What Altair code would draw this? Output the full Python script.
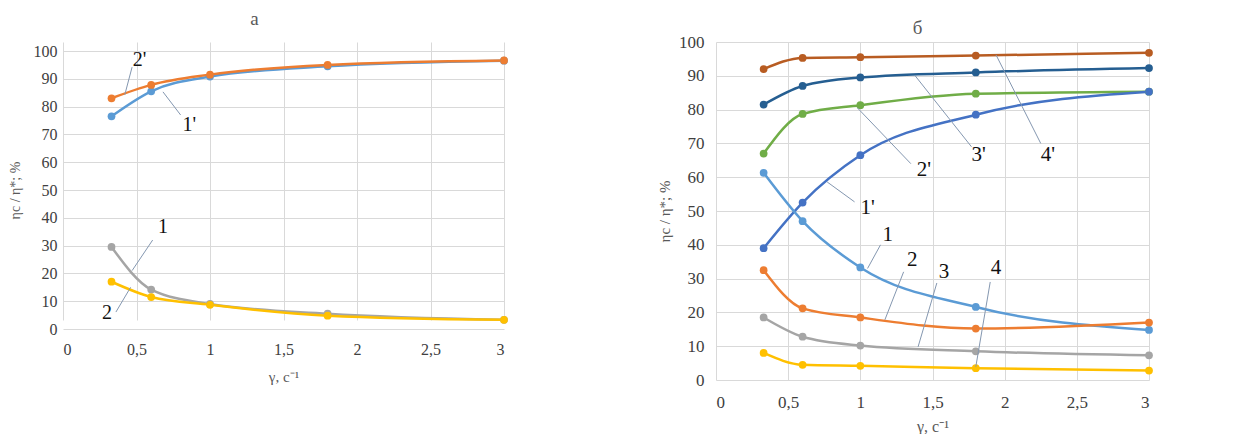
import altair as alt
import pandas as pd

# shared shear-rate values
x_vals = [0.33, 0.6, 1.0, 1.8, 3.0]

# ---------- panel "а" ----------
a_names = ["1'", "2'", "1", "2"]
a_colors = ["#5b9bd5", "#ed7d31", "#a5a5a5", "#ffc000"]
a_1p = [76.5, 85.5, 90.8, 94.5, 96.5]
a_2p = [83.0, 87.8, 91.5, 95.0, 96.6]
a_1 = [29.5, 14.2, 9.0, 5.5, 3.3]
a_2 = [17.0, 11.5, 8.7, 4.8, 3.3]
a_series = [a_1p, a_2p, a_1, a_2]

a_lab_text = ["2'", "1'", "1", "2"]
a_lab_x = [0.52, 0.86, 0.68, 0.30]
a_lab_y = [96.8, 73.4, 36.7, 5.8]
a_ld_x = [0.42, 0.68, 0.61, 0.36]
a_ld_y = [84.2, 85.3, 32.0, 6.1]
a_ld_x2 = [0.47, 0.80, 0.47, 0.46]
a_ld_y2 = [94.2, 77.0, 21.0, 15.0]

# ---------- panel "б" ----------
b_names = ["4'", "3'", "2'", "1'", "1", "2", "3", "4"]
b_colors = ["#b85c22", "#255e91", "#70ad47", "#4472c4",
            "#5b9bd5", "#ed7d31", "#a5a5a5", "#ffc000"]
b_4p = [92.0, 95.3, 95.5, 96.0, 96.8]
b_3p = [81.5, 87.0, 89.5, 91.0, 92.3]
b_2p = [67.0, 78.7, 81.3, 84.7, 85.3]
b_1p = [39.0, 52.5, 66.5, 78.5, 85.3]
b_1 = [61.3, 47.0, 33.3, 21.6, 14.8]
b_2 = [32.5, 21.2, 18.5, 15.2, 17.0]
b_3 = [18.5, 12.8, 10.2, 8.5, 7.3]
b_4 = [8.0, 4.5, 4.2, 3.5, 2.8]
b_series = [b_4p, b_3p, b_2p, b_1p, b_1, b_2, b_3, b_4]

b_lab_text = ["4'", "3'", "2'", "1'", "1", "2", "3", "4"]
b_lab_x = [2.30, 1.82, 1.44, 1.05, 1.19, 1.36, 1.58, 1.94]
b_lab_y = [66.6, 66.6, 62.0, 50.8, 42.9, 35.5, 32.0, 33.0]
b_ld_x = [1.94, 1.38, 0.98, 0.77, 1.05, 1.17, 1.40, 1.80]
b_ld_y = [96.2, 90.0, 80.5, 58.6, 33.0, 17.8, 9.8, 3.9]
b_ld_x2 = [2.25, 1.77, 1.35, 0.96, 1.14, 1.30, 1.53, 1.90]
b_ld_y2 = [70.0, 69.0, 64.0, 52.7, 40.0, 32.0, 28.7, 29.0]

SERIF = "Liberation Serif"
GRID = "#d9d9d9"
LEADER = "#8497b0"


def panel(key, names, colors, series, lab_text, lab_x, lab_y,
          ld_x, ld_y, ld_x2, ld_y2, title, w, h, yrange,
          fs, title_dx, title_off, xlp, xtp, ylp, ytp):
    keys = [key + n for n in names]
    rows = []
    for i, (k, vals) in enumerate(zip(keys, series)):
        for xv, yv in zip(x_vals, vals):
            rows.append({"series": k, "x": xv, "y": yv, "o": i})
    df = pd.DataFrame(rows)
    labs = pd.DataFrame({"t": lab_text, "x": lab_x, "y": lab_y})
    leads = pd.DataFrame({"x": ld_x, "y": ld_y, "x2": ld_x2, "y2": ld_y2})

    xs = alt.Scale(domain=[0, 3], nice=False)
    ys = alt.Scale(domain=[0, 100], nice=False, range=yrange)
    xax = alt.Axis(values=[0, 0.5, 1, 1.5, 2, 2.5, 3],
                   labelExpr="replace(toString(datum.value), '.', ',')",
                   title="γ, с⁻¹", titleFont=SERIF, titleFontSize=fs - 1,
                   titleFontWeight="normal", titleColor="#595959",
                   labelFont=SERIF, labelFontSize=fs, labelColor="#404040",
                   labelPadding=xlp, titlePadding=xtp, labelOverlap=False,
                   grid=True, gridColor=GRID, domain=False, ticks=False)
    yax = alt.Axis(values=list(range(0, 101, 10)), labelOverlap=False,
                   title="ηc / η*; %", titleFont=SERIF, titleFontSize=fs - 2,
                   titleFontWeight="normal", titleColor="#595959",
                   labelFont=SERIF, labelFontSize=fs, labelColor="#404040",
                   labelPadding=ylp, titlePadding=ytp,
                   grid=True, gridColor=GRID, domain=False, ticks=False)

    def X(f):
        return alt.X(f, type="quantitative", scale=xs, axis=xax)

    def Y(f):
        return alt.Y(f, type="quantitative", scale=ys, axis=yax)

    color = alt.Color("series:N", scale=alt.Scale(domain=keys, range=colors),
                      legend=None)

    base = alt.Chart(df)
    lines = base.mark_line(interpolate="monotone", strokeWidth=2.5).encode(
        x=X("x"), y=Y("y"), color=color, detail="series:N", order="o:Q")
    pts = base.mark_circle(size=60, opacity=1).encode(
        x=X("x"), y=Y("y"), color=color)
    rules = alt.Chart(leads).mark_rule(color=LEADER, strokeWidth=1).encode(
        x=X("x"), y=Y("y"), x2="x2:Q", y2="y2:Q")
    texts = alt.Chart(labs).mark_text(font=SERIF, fontSize=fs + 4,
                                      color="#111111").encode(
        x=X("x"), y=Y("y"), text="t:N")
    return alt.layer(lines, pts, rules, texts).properties(
        width=w, height=h,
        title=alt.TitleParams(title, font=SERIF, fontSize=19,
                              fontWeight="normal", color="#595959",
                              dx=title_dx, offset=title_off))


left = panel("a", a_names, a_colors, a_series, a_lab_text, a_lab_x, a_lab_y,
             a_ld_x, a_ld_y, a_ld_x2, a_ld_y2, "а", 441, 287, [287, 9],
             16, -29, 13, 12, 12, 6, 11)
right = panel("b", b_names, b_colors, b_series, b_lab_text, b_lab_x, b_lab_y,
              b_ld_x, b_ld_y, b_ld_x2, b_ld_y2, "б", 433, 338, [338, 0],
              17, -15, -5, 14, 8, 12, 6)

chart = alt.hconcat(left, right, spacing=148).properties(
    padding={"left": 0, "top": 2, "right": 5, "bottom": 0}
).resolve_scale(color="independent").configure_axis(
    labelFont=SERIF, titleFont=SERIF
).configure_view(stroke=None)

chart.save("out.html", embed_options={"renderer": "svg", "actions": False})
